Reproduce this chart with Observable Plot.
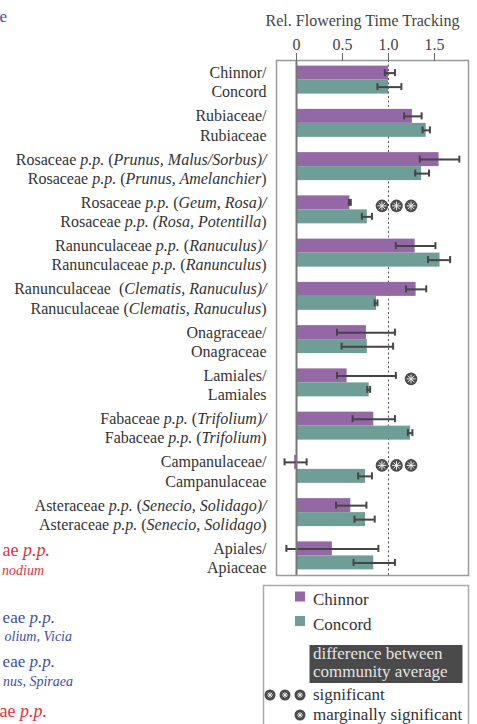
<!DOCTYPE html>
<html><head><meta charset="utf-8">
<script src="https://cdn.jsdelivr.net/npm/d3@7"></script>
<script src="https://cdn.jsdelivr.net/npm/@observablehq/plot@0.6"></script>
<style>
body{margin:0;background:#fff;width:477px;height:724px;overflow:hidden;position:relative;font-family:"Liberation Serif",serif;}
#chart{position:absolute;left:0;top:0;}
#overlay{position:absolute;left:0;top:0;}
</style></head><body>
<div id="chart"></div>
<svg id="overlay" width="477" height="724"></svg>
<script>
// ---- data ----
const labelTop = [
  "Chinnor/", "Rubiaceae/", "Rosaceae _p.p._ (_Prunus, Malus/Sorbus)/_",
  "Rosaceae _p.p._ (_Geum, Rosa)/_", "Ranunculaceae _p.p._ (_Ranuculus)/_",
  "Ranunculaceae  (_Clematis, Ranuculus)/_", "Onagraceae/", "Lamiales/",
  "Fabaceae _p.p._ (_Trifolium)/_", "Campanulaceae/",
  "Asteraceae _p.p._ (_Senecio, Solidago)/_", "Apiales/"
];
const labelBottom = [
  "Concord", "Rubiaceae", "Rosaceae _p.p._ (_Prunus, Amelanchier_)",
  "Rosaceae _p.p. (Rosa, Potentilla_)", "Ranunculaceae _p.p._ (_Ranunculus_)",
  "Ranuculaceae (_Clematis, Ranuculus_)", "Onagraceae", "Lamiales",
  "Fabaceae _p.p._ (_Trifolium_)", "Campanulaceae",
  "Asteraceae _p.p._ (_Senecio, Solidago_)", "Apiaceae"
];
const sites = ["Chinnor", "Concord"];
const chinnorMean = [1.00, 1.26, 1.55, 0.58, 1.29, 1.30, 0.76, 0.55, 0.84, -0.02, 0.59, 0.39];
const chinnorLo   = [0.96, 1.17, 1.34, 0.57, 1.08, 1.19, 0.44, 0.44, 0.61, -0.13, 0.43, -0.11];
const chinnorHi   = [1.07, 1.36, 1.77, 0.59, 1.51, 1.41, 1.07, 1.08, 1.07, 0.11, 0.76, 0.89];
const concordMean = [1.00, 1.41, 1.36, 0.77, 1.56, 0.87, 0.77, 0.79, 1.24, 0.75, 0.75, 0.84];
const concordLo   = [0.88, 1.37, 1.29, 0.71, 1.43, 0.85, 0.49, 0.77, 1.21, 0.67, 0.63, 0.62];
const concordHi   = [1.14, 1.45, 1.44, 0.82, 1.67, 0.88, 1.05, 0.80, 1.26, 0.82, 0.85, 1.07];
const significance = [0, 0, 0, 3, 0, 0, 0, 1, 0, 3, 0, 0]; // 3 = significant, 1 = marginal
const xTicks = [0, 0.5, 1, 1.5];
const xTickLabels = ["0", "0.5", "1.0", "1.5"];
const axisTitle = "Rel. Flowering Time Tracking";
const siteColors = ["#9468a5", "#6e9e95"];

// ---- build tables ----
const plain = s => s.replace(/_/g, "");
const groups = labelTop.map((t, i) => plain(t) + "\n" + plain(labelBottom[i]));
const rows = [];
groups.forEach((g, i) => {
  rows.push({group: g, site: "Chinnor", value: chinnorMean[i], lo: chinnorLo[i], hi: chinnorHi[i]});
  rows.push({group: g, site: "Concord", value: concordMean[i], lo: concordLo[i], hi: concordHi[i]});
});
const sigRows = [];
groups.forEach((g, i) => { for (let k = 0; k < significance[i]; k++) sigRows.push({group: g, k}); });
const sigAnchor = 1.245, sigStep = 0.158;

const chin = rows.filter(d => d.site === "Chinnor");
const conc = rows.filter(d => d.site === "Concord");
const ebar = {stroke: "#454545", strokeWidth: 2};

const plot = Plot.plot({
  width: 477, height: 580,
  marginLeft: 276, marginRight: 9, marginTop: 60, marginBottom: 5,
  style: {fontFamily: "'Liberation Serif', serif", fontSize: "16px", color: "#333", background: "white"},
  x: {domain: [-20/92, 172/92]},
  y: {domain: groups, paddingInner: 0.353, paddingOuter: 0.13, round: false},
  color: {domain: sites, range: siteColors},
  marks: [
    Plot.ruleX([1], {stroke: "#555", strokeWidth: 1, strokeDasharray: "2,2.5"}),
    Plot.barX(chin, {y: "group", x: "value", fill: "site", insetBottom: 14}),
    Plot.barX(conc, {y: "group", x: "value", fill: "site", insetTop: 14}),
    Plot.ruleY(chin, {y: "group", x1: "lo", x2: "hi", dy: -7, ...ebar}),
    Plot.ruleY(conc, {y: "group", x1: "lo", x2: "hi", dy: 7, ...ebar}),
    Plot.tickX(chin, {y: "group", x: "lo", insetTop: 3.5, insetBottom: 17.5, ...ebar}),
    Plot.tickX(chin, {y: "group", x: "hi", insetTop: 3.5, insetBottom: 17.5, ...ebar}),
    Plot.tickX(conc, {y: "group", x: "lo", insetTop: 17.5, insetBottom: 3.5, ...ebar}),
    Plot.tickX(conc, {y: "group", x: "hi", insetTop: 17.5, insetBottom: 3.5, ...ebar}),
    Plot.ruleX([0], {stroke: "#777", strokeWidth: 2}),
    Plot.dot(sigRows, {x: d => sigAnchor - d.k * sigStep, y: "group", dy: -4, r: 6.3, fill: "#4a4a4a", stroke: "none"}),
    Plot.dot(sigRows, {x: d => sigAnchor - d.k * sigStep, y: "group", dy: -4, r: 3, symbol: "plus", stroke: "#f0f0f0", strokeWidth: 1}),
    Plot.dot(sigRows, {x: d => sigAnchor - d.k * sigStep, y: "group", dy: -4, r: 3, symbol: "times", stroke: "#f0f0f0", strokeWidth: 1}),
    Plot.frame({stroke: "#9a9a9a", strokeWidth: 1.5}),
    Plot.axisX({anchor: "top", ticks: xTicks, tickFormat: d => xTickLabels[xTicks.indexOf(d)], tickSize: 8, tickPadding: 3, label: null, stroke: "#666", fill: "#444"}),
    Plot.axisY({tickSize: 0, tickPadding: 10, label: null, tickFormat: d => d, fill: "#333"}),
    Plot.text([axisTitle], {text: d => d, frameAnchor: "top", dx: -10, dy: -46, fill: "#444"})
  ]
});
document.getElementById("chart").appendChild(plot);

// rich y-axis labels (italic parts)
function addRich(textEl, str, x, dy) {
  const ts = document.createElementNS("http://www.w3.org/2000/svg", "tspan");
  ts.setAttribute("x", x); ts.setAttribute("dy", dy);
  textEl.appendChild(ts);
  str.split("_").forEach((part, j) => {
    if (!part) return;
    const s = document.createElementNS("http://www.w3.org/2000/svg", "tspan");
    if (j % 2 === 1) s.setAttribute("font-style", "italic");
    s.textContent = part;
    ts.appendChild(s);
  });
}
const yl = plot.querySelectorAll('g[aria-label="y-axis tick label"] text');
yl.forEach((t, i) => {
  const x = t.getAttribute("x") || 0;
  t.removeAttribute("dy");
  while (t.firstChild) t.removeChild(t.firstChild);
  addRich(t, labelTop[i], x, "-2");
  addRich(t, labelBottom[i], x, "19.3");
});

// ---- legend and cropped neighbouring text ----
const ov = d3.select("#overlay");
const col = plot.scale("color");
ov.append("rect").attr("x", 263.5).attr("y", 585.5).attr("width", 205).attr("height", 200)
  .attr("fill", "white").attr("stroke", "#aaa").attr("stroke-width", 1.5);
const lg = [{site: sites[0], y: 591.5}, {site: sites[1], y: 616}];
lg.forEach(d => {
  ov.append("rect").attr("x", 295).attr("y", d.y).attr("width", 10).attr("height", 10).attr("fill", col.apply(d.site));
  ov.append("text").attr("x", 313).attr("y", d.y + 13.5).attr("font-size", 17).attr("fill", "#333").text(d.site);
});
ov.append("rect").attr("x", 309.5).attr("y", 645).attr("width", 153).attr("height", 38).attr("fill", "#4a4a4a");
ov.append("text").attr("x", 313).attr("y", 658.5).attr("font-size", 17).attr("fill", "#e4e4e4").text("difference between");
ov.append("text").attr("x", 313).attr("y", 677).attr("font-size", 17).attr("fill", "#e4e4e4").text("community average");
function star(cx, cy, r) {
  ov.append("circle").attr("cx", cx).attr("cy", cy).attr("r", r).attr("fill", "#4a4a4a");
  const a = r * 0.55;
  [[a,0],[0,a],[a*0.707,a*0.707],[a*0.707,-a*0.707]].forEach(([dx, dy]) =>
    ov.append("line").attr("x1", cx - dx).attr("y1", cy - dy).attr("x2", cx + dx).attr("y2", cy + dy)
      .attr("stroke", "#f0f0f0").attr("stroke-width", 0.9));
}
[270, 285, 300].forEach(x => star(x, 695, 5.5));
ov.append("text").attr("x", 313).attr("y", 700).attr("font-size", 17).attr("fill", "#333").text("significant");
star(300, 715, 5.5);
ov.append("text").attr("x", 313).attr("y", 720).attr("font-size", 17).attr("fill", "#333").text("marginally significant");

const red = "#e2323f", blue = "#3b4fa6";
const frags = [
  {x: 7, y: 22, s: "e", c: blue, f: 17},
  {x: 50, y: 556, s: "ae _p.p._", c: red, f: 18},
  {x: 44, y: 575, s: "_nodium_", c: red, f: 14},
  {x: 55, y: 623, s: "eae _p.p._", c: blue, f: 17},
  {x: 72, y: 641, s: "_olium, Vicia_", c: blue, f: 14},
  {x: 55, y: 667, s: "eae _p.p._", c: blue, f: 17},
  {x: 73, y: 686, s: "_nus, Spiraea_", c: blue, f: 14},
  {x: 47, y: 717, s: "ae _p.p._", c: red, f: 18}
];
frags.forEach(d => {
  const t = ov.append("text").attr("x", d.x).attr("y", d.y).attr("text-anchor", "end")
    .attr("font-size", d.f).attr("fill", d.c);
  d.s.split("_").forEach((part, j) => {
    if (!part) return;
    t.append("tspan").attr("font-style", j % 2 ? "italic" : null).text(part);
  });
});
</script>
</body></html>
